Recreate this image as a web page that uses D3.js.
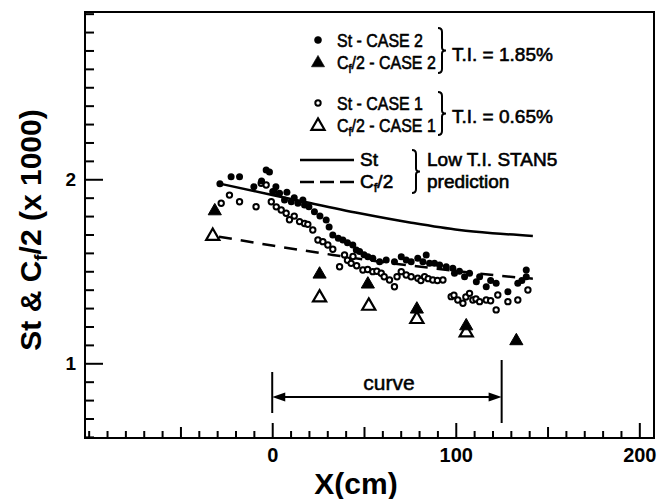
<!DOCTYPE html>
<html>
<head>
<meta charset="utf-8">
<script src="https://cdn.jsdelivr.net/npm/d3@7"></script>
<style>
  html, body { margin: 0; padding: 0; background: #fff; }
  svg { display: block; font-family: "Liberation Sans", Arial, Helvetica, sans-serif; }
</style>
</head>
<body>
<svg id="chart" width="659" height="499"></svg>
<script>
// Stanton number, case 2 (T.I. = 1.85%): x in cm, St x 1000
const stCase2X = [-28.5,-22.4,-17.8,-10,-5.8,-3.3,-1.5,0.3,2,4,6.7,8,10.4,12,14,16.7,17.6,20,23,26,29.4,31,33,36,38.5,41,43.9,45.8,47.6,50,52.1,54.8,58.5,62.1,66.6,70.3,73,75.7,79.3,82.1,83.9,85.7,88.4,91.2,94.8,98.4,99.3,102,104.8,107.5,111.2,113,116.6,119,122,128.4,133.8,136,138.4,138.4];
const stCase2Y = [1.975,2.014,2.014,1.96,1.99,2.05,2.04,1.933,1.96,1.924,1.888,1.93,1.878,1.9,1.87,1.888,1.86,1.85,1.824,1.80,1.779,1.74,1.697,1.68,1.67,1.655,1.643,1.616,1.607,1.59,1.579,1.571,1.552,1.561,1.552,1.579,1.561,1.552,1.571,1.552,1.589,1.543,1.543,1.534,1.525,1.516,1.489,1.5,1.47,1.489,1.443,1.47,1.416,1.45,1.435,1.389,1.435,1.45,1.507,1.47];

// Stanton number, case 1 (T.I. = 0.65%)
const stCase1X = [-27.8,-23.3,-17.8,-8.8,-6,-3.3,-0.5,1,2.2,4.9,7.6,9.4,12,14.9,17.6,19.4,22.1,24.9,27.6,30.3,33,36.7,39.4,41,43,44,46,49.4,52,54.8,57,59.4,61,63.9,66.6,68,70.3,73,75.7,79.3,81,83,85,87.5,90,93,97.5,99,101.1,103.9,105.5,107.5,109.3,111,113,116.6,119,122,122.9,128.4,133.8,139.3];
const stCase1Y = [1.87,1.914,1.878,1.851,1.978,1.969,1.878,1.93,1.85,1.833,1.815,1.78,1.8,1.77,1.76,1.755,1.724,1.67,1.661,1.643,1.62,1.525,1.589,1.56,1.543,1.58,1.53,1.507,1.51,1.498,1.5,1.489,1.47,1.453,1.416,1.47,1.498,1.48,1.47,1.462,1.45,1.47,1.46,1.453,1.45,1.453,1.362,1.37,1.344,1.326,1.36,1.38,1.344,1.35,1.335,1.344,1.34,1.29,1.371,1.335,1.344,1.398];

// Skin friction Cf/2, both cases
const cfCase2X = [-31.3,25.8,52.1,78.8,105.7,133];
const cfCase2Y = [1.833,1.489,1.435,1.299,1.208,1.127];
const cfCase1X = [-32.4,25.8,52.6,78.8,105.7];
const cfCase1Y = [1.697,1.362,1.317,1.245,1.172];

// STAN5 low-T.I. predictions
const stanStX = [-28,0,20,47.6,75,102,120,142];
const stanStY = [1.975,1.915,1.872,1.815,1.765,1.724,1.707,1.692];
const stanCfX = [-29,0,33,60,85,109,125,142];
const stanCfY = [1.688,1.64,1.589,1.55,1.52,1.492,1.475,1.46];

// Axis ticks and labels
const xMajorTicks = [0, 100, 200];
const xMidTicks = [-50, 50, 150];
const yMajorTicks = [1, 2];
const xTickLabels = ["0", "100", "200"];
const yTickLabels = ["1", "2"];
const curveStart = 0, curveEnd = 125;

const svg = d3.select("#chart");
const plotL = 85, plotR = 654, plotT = 12, plotB = 438;

const x = d3.scaleLinear().domain([-102, 208]).range([plotL, plotR]);
const y = d3.scaleLinear().domain([0.594, 2.909]).range([plotB, plotT]);

const zip = (a, b) => a.map((v, i) => [v, b[i]]);

// frame
svg.append("rect")
  .attr("x", plotL).attr("y", plotT)
  .attr("width", plotR - plotL).attr("height", plotB - plotT)
  .attr("fill", "none").attr("stroke", "#000").attr("stroke-width", 2);

// x ticks (inward), three lengths
const xMinor = d3.range(-100, 201, 10).filter(v => !xMajorTicks.includes(v) && !xMidTicks.includes(v));
function xTicks(vals, len) {
  const g = svg.append("g").attr("transform", `translate(0,${plotB})`)
    .call(d3.axisBottom(x).tickValues(vals).tickSize(-len).tickFormat(""));
  g.select(".domain").remove();
  g.selectAll("line").attr("stroke", "#000").attr("stroke-width", 2);
  return g;
}
xTicks(xMinor, 7);
xTicks(xMidTicks, 11);
const gxMaj = svg.append("g").attr("transform", `translate(0,${plotB})`)
  .call(d3.axisBottom(x).tickValues(xMajorTicks).tickSize(-15)
    .tickFormat((d, i) => xTickLabels[i]).tickPadding(10));
gxMaj.select(".domain").remove();
gxMaj.selectAll("line").attr("stroke", "#000").attr("stroke-width", 2);
gxMaj.selectAll("text").attr("font-size", 20).attr("font-weight", "bold")
  .attr("fill", "#000").attr("font-family", "Liberation Sans, Arial, sans-serif");

// y ticks (inward)
const yMinor = d3.range(6, 30, 1).map(v => v / 10).filter(v => !yMajorTicks.includes(v));
const gyMin = svg.append("g").attr("transform", `translate(${plotL},0)`)
  .call(d3.axisLeft(y).tickValues(yMinor).tickSize(-9).tickFormat(""));
gyMin.select(".domain").remove();
gyMin.selectAll("line").attr("stroke", "#000").attr("stroke-width", 2);
const gyMaj = svg.append("g").attr("transform", `translate(${plotL},0)`)
  .call(d3.axisLeft(y).tickValues(yMajorTicks).tickSize(-18)
    .tickFormat((d, i) => yTickLabels[i]));
gyMaj.select(".domain").remove();
gyMaj.selectAll("line").attr("stroke", "#000").attr("stroke-width", 2);
gyMaj.selectAll("text").attr("font-size", 19).attr("font-weight", "bold")
  .attr("fill", "#000").attr("x", -9).attr("font-family", "Liberation Sans, Arial, sans-serif");

// axis titles
svg.append("text").attr("x", 356).attr("y", 494)
  .attr("text-anchor", "middle").attr("font-size", 30).attr("font-weight", "bold")
  .text("X(cm)");

const yt = svg.append("text")
  .attr("transform", "translate(41,230) rotate(-90)")
  .attr("text-anchor", "middle").attr("font-size", 30).attr("font-weight", "bold");
yt.append("tspan").text("St  &  C");
yt.append("tspan").attr("font-size", 19).attr("dy", 6).text("f");
yt.append("tspan").attr("dy", -6).text("/2 (x  1000)");

// prediction lines
const line = d3.line().x(d => x(d[0])).y(d => y(d[1])).curve(d3.curveMonotoneX);
svg.append("path").datum(zip(stanStX, stanStY)).attr("d", line)
  .attr("fill", "none").attr("stroke", "#000").attr("stroke-width", 2.5);
svg.append("path").datum(zip(stanCfX, stanCfY)).attr("d", line)
  .attr("fill", "none").attr("stroke", "#000").attr("stroke-width", 2.5)
  .attr("stroke-dasharray", "13,9");

// markers
const tri = d3.symbol().type(d3.symbolTriangle).size(75);
svg.append("g").selectAll("circle").data(zip(stCase1X, stCase1Y)).join("circle")
  .attr("cx", d => x(d[0])).attr("cy", d => y(d[1])).attr("r", 2.7)
  .attr("fill", "#fff").attr("stroke", "#000").attr("stroke-width", 2);
svg.append("g").selectAll("circle").data(zip(stCase2X, stCase2Y)).join("circle")
  .attr("cx", d => x(d[0])).attr("cy", d => y(d[1])).attr("r", 3.5)
  .attr("fill", "#000");
svg.append("g").selectAll("path").data(zip(cfCase1X, cfCase1Y)).join("path")
  .attr("d", tri).attr("transform", d => `translate(${x(d[0])},${y(d[1]) + 1})`)
  .attr("fill", "#fff").attr("stroke", "#000").attr("stroke-width", 2.2);
svg.append("g").selectAll("path").data(zip(cfCase2X, cfCase2Y)).join("path")
  .attr("d", tri).attr("transform", d => `translate(${x(d[0])},${y(d[1]) + 1})`)
  .attr("fill", "#000").attr("stroke", "#000").attr("stroke-width", 1);

// curve extent annotation
const ann = svg.append("g").attr("stroke", "#000").attr("stroke-width", 2);
ann.append("line").attr("x1", x(curveStart)).attr("x2", x(curveStart)).attr("y1", 372).attr("y2", 413);
ann.append("line").attr("x1", x(curveEnd)).attr("x2", x(curveEnd)).attr("y1", 360).attr("y2", 423);
ann.append("line").attr("x1", x(curveStart) + 10).attr("x2", x(curveEnd) - 10).attr("y1", 397).attr("y2", 397);
svg.append("path").attr("d", `M${x(curveStart)},397 l13,-4.5 l0,9 z`).attr("fill", "#000");
svg.append("path").attr("d", `M${x(curveEnd)},397 l-13,-4.5 l0,9 z`).attr("fill", "#000");
svg.append("text").attr("x", 389).attr("y", 390)
  .attr("text-anchor", "middle").attr("font-size", 21)
  .attr("stroke", "#000").attr("stroke-width", 0.5).text("curve");

// legend
const lg = svg.append("g").attr("stroke", "#000").attr("stroke-width", 0.6);
const mx = 318, tx = 337, narrow = 0.84;
function brace(bx, y0, y1) {
  const ym = (y0 + y1) / 2;
  return `M${bx - 4},${y0} Q${bx},${y0} ${bx},${y0 + 4} L${bx},${ym - 3} Q${bx},${ym} ${bx + 4},${ym} Q${bx},${ym} ${bx},${ym + 3} L${bx},${y1 - 4} Q${bx},${y1} ${bx - 4},${y1}`;
}
// condensed legend label, optionally with a subscript part
function label(px, py, before, sub, after, sx) {
  const t = lg.append("g").attr("transform", `translate(${px},${py}) scale(${sx},1)`)
    .append("text").attr("font-size", 19);
  t.append("tspan").text(before);
  if (sub) {
    t.append("tspan").attr("font-size", 13).attr("dy", 4).text(sub);
    t.append("tspan").attr("dy", -4).text(after);
  }
  return t;
}
lg.append("circle").attr("cx", mx).attr("cy", 40).attr("r", 3.5).attr("fill", "#000");
label(tx, 47, "St - CASE 2", null, null, narrow);
lg.append("path").attr("d", tri).attr("transform", `translate(${mx},63)`).attr("fill", "#000");
label(tx, 69, "C", "f", "/2 - CASE 2", narrow);
lg.append("path").attr("d", brace(442, 28, 73)).attr("fill", "none").attr("stroke-width", 2);
label(452, 61, "T.I. = 1.85%", null, null, 1);

lg.append("circle").attr("cx", mx).attr("cy", 103).attr("r", 2.7).attr("fill", "#fff").attr("stroke-width", 2);
label(tx, 110, "St - CASE 1", null, null, narrow);
lg.append("path").attr("d", tri).attr("transform", `translate(${mx},126)`).attr("fill", "#fff").attr("stroke-width", 2.2);
label(tx, 132, "C", "f", "/2 - CASE 1", narrow);
lg.append("path").attr("d", brace(442, 92, 135)).attr("fill", "none").attr("stroke-width", 2);
label(452, 123, "T.I. = 0.65%", null, null, 1);

lg.append("line").attr("x1", 300).attr("x2", 354).attr("y1", 160).attr("y2", 160).attr("stroke-width", 2.5);
label(360, 166, "St", null, null, 1);
lg.append("line").attr("x1", 300).attr("x2", 354).attr("y1", 182).attr("y2", 182).attr("stroke-width", 2.5).attr("stroke-dasharray", "14,6");
label(360, 188, "C", "f", "/2", 1);
lg.append("path").attr("d", brace(416, 150, 193)).attr("fill", "none").attr("stroke-width", 2);
label(427, 166, "Low T.I. STAN5", null, null, 1);
label(427, 188, "prediction", null, null, 1);
</script>
</body>
</html>
